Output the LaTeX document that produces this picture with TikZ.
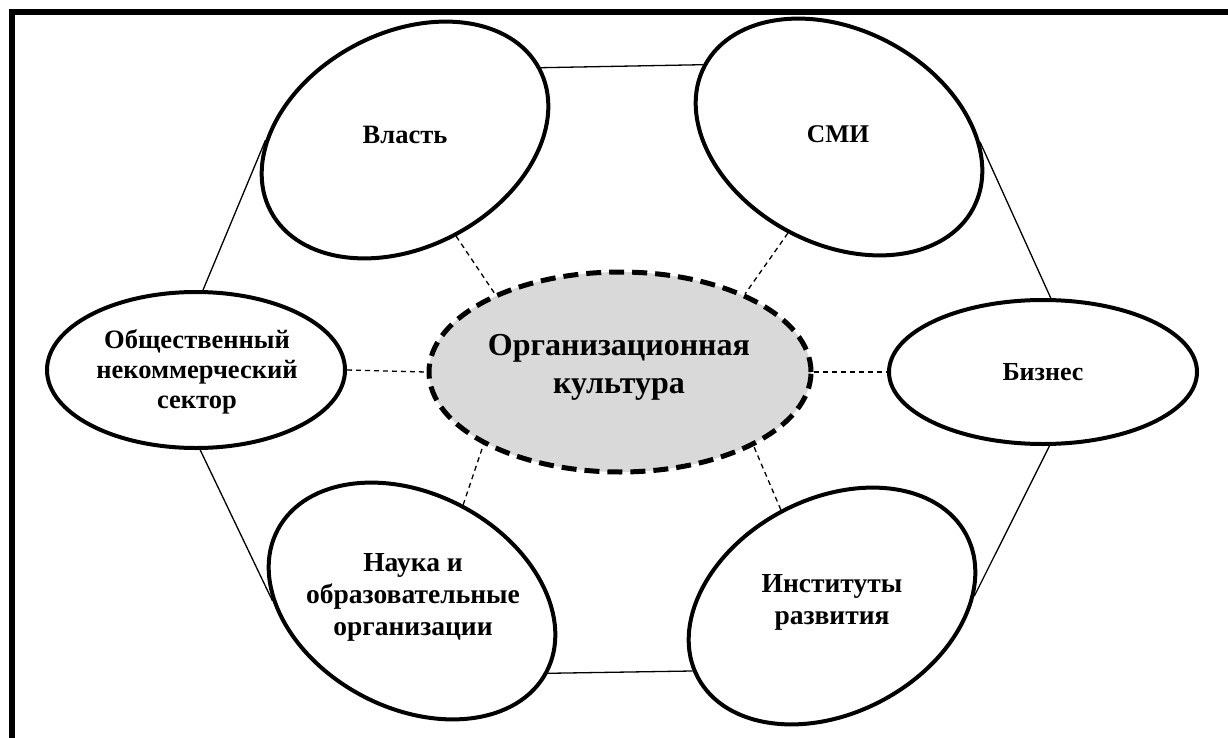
\documentclass[tikz,border=0pt]{standalone}
\usepackage{fontspec}
\setmainfont{Liberation Serif}
\usetikzlibrary{shapes.geometric,backgrounds}
\definecolor{coregray}{HTML}{D9D9D9}
\begin{document}
\begin{tikzpicture}[x=1pt,y=1pt,
  outer/.style={ellipse, draw, line width=4pt, fill=white, minimum width=304pt, minimum height=214pt, inner sep=0pt},
  side/.style={ellipse, draw, line width=4pt, fill=white, inner sep=0pt},
  core/.style={ellipse, draw, line width=5pt, dash pattern=on 15pt off 8pt, fill=coregray, minimum width=382pt, minimum height=200pt, inner sep=0pt},
  lbl/.style={align=center, inner sep=0pt, font=\bfseries\fontsize{26.5}{30}\selectfont},
  biglbl/.style={align=center, inner sep=0pt, font=\bfseries\fontsize{27.5}{32}\selectfont},
  corelbl/.style={align=center, inner sep=0pt, font=\bfseries\fontsize{32}{38}\selectfont},
  link/.style={line width=1.3pt},
  tie/.style={line width=1.3pt, dash pattern=on 5pt off 4pt},
]
\useasboundingbox (0,0) rectangle (1228,-738);
% frame
\draw[line width=5.6pt] (12,-760) -- (12,-12) -- (1250,-12);

% ellipses
\node[core] (c) at (620,-372) {};
\node[outer, rotate=28] (vl) at (405,-140) {};
\node[outer, rotate=-28] (smi) at (839,-137) {};
\node[outer, rotate=-28] (nauka) at (412,-601) {};
\node[outer, rotate=28] (inst) at (832,-606) {};
\node[side, minimum width=298pt, minimum height=156pt] (obs) at (196,-370) {};
\node[side, minimum width=308pt, minimum height=144pt] (biz) at (1043,-372) {};

% labels
\node[lbl] (tvl) at (405,-135) {Власть};
\node[lbl, font=\bfseries\fontsize{25.5}{30}\selectfont] (tsmi) at (838,-134) {СМИ};
\node[lbl] (tobs) at (197,-372) {Общественный\\некоммерческий\\сектор};
\node[lbl, font=\bfseries\fontsize{26}{30}\selectfont] (tbiz) at (1043,-372) {Бизнес};
\node[corelbl] (tc) at (619,-367) {Организационная\\культура};
\node[biglbl] (tnauka) at (413,-597) {Наука и\\образовательные\\организации};
\node[biglbl] (tinst) at (832,-602) {Институты\\развития};

\begin{scope}[on background layer]
  % outer ring
  \draw[link] (vl.0) -- (smi.180);
  \draw[link] (vl.152) -- (obs.85);
  \draw[link] (obs.273) -- (nauka.208);
  \draw[link] (smi.26) -- (biz.84);
  \draw[link] (biz.275) -- (inst.336);
  \draw[link] (nauka.0) -- (inst.177);
  % ties to the core
  \draw[tie] (vl.270) -- (c.148);
  \draw[tie] (smi.270) -- (c.32);
  \draw[tie] (obs.east) -- (c.west);
  \draw[tie] (c.east) -- (biz.west);
  \draw[tie] (nauka.90) -- (c.208);
  \draw[tie] (inst.90) -- (c.331);
\end{scope}
\end{tikzpicture}
\end{document}
